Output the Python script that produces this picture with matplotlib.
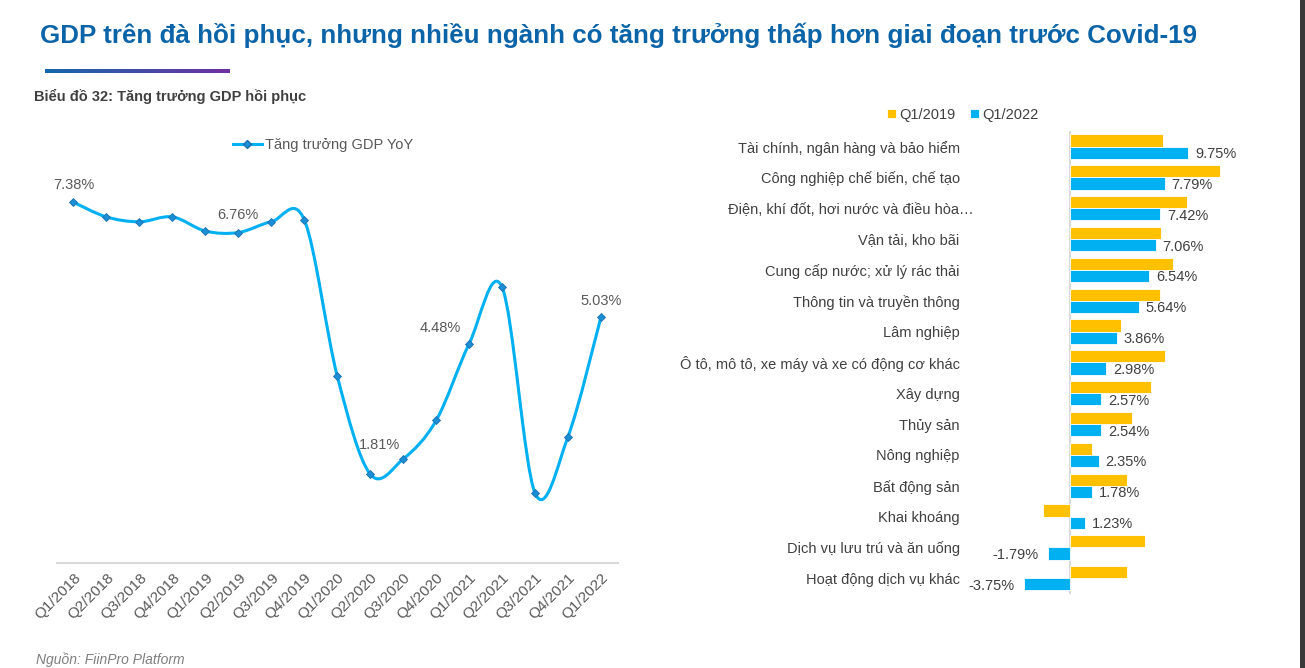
import numpy as np
import matplotlib
matplotlib.use("Agg")
import matplotlib.pyplot as plt
import matplotlib.patches as mpatches
from matplotlib.path import Path
from matplotlib.colors import LinearSegmentedColormap
from matplotlib.transforms import ScaledTranslation

plt.rcParams["font.family"] = ["Liberation Sans", "DejaVu Sans"]

# ---- data ----
quarters = ["Q1/2018", "Q2/2018", "Q3/2018", "Q4/2018",
            "Q1/2019", "Q2/2019", "Q3/2019", "Q4/2019",
            "Q1/2020", "Q2/2020", "Q3/2020", "Q4/2020",
            "Q1/2021", "Q2/2021", "Q3/2021", "Q4/2021", "Q1/2022"]
gdp_yoy = [7.38, 7.08, 6.98, 7.08, 6.79, 6.76, 6.98, 7.02,
           3.82, 1.81, 2.12, 2.91, 4.48, 5.64, 1.42, 2.58, 5.03]
# index -> (label, offset in px from the point)
labelled = {0: ("7.38%", 0, 17), 5: ("6.76%", 0, 18), 9: ("1.81%", 9, 29),
            12: ("4.48%", -29, 16), 16: ("5.03%", 0, 16)}

sectors = ["Tài chính, ngân hàng và bảo hiểm",
           "Công nghiệp chế biến, chế tạo",
           "Điện, khí đốt, hơi nước và điều hòa…",
           "Vận tải, kho bãi",
           "Cung cấp nước; xử lý rác thải",
           "Thông tin và truyền thông",
           "Lâm nghiệp",
           "Ô tô, mô tô, xe máy và xe có động cơ khác",
           "Xây dựng",
           "Thủy sản",
           "Nông nghiệp",
           "Bất động sản",
           "Khai khoáng",
           "Dịch vụ lưu trú và ăn uống",
           "Hoạt động dịch vụ khác"]
q1_2019 = [7.68, 12.32, 9.60, 7.50, 8.46, 7.44, 4.19, 7.81,
           6.66, 5.07, 1.79, 4.73, -2.21, 6.19, 4.73]
q1_2022 = [9.75, 7.79, 7.42, 7.06, 6.54, 5.64, 3.86, 2.98,
           2.57, 2.54, 2.35, 1.78, 1.23, -1.79, -3.75]

LINE = "#00B0F0"
ORANGE = "#FFC000"
BLUE = "#00B0F0"
TXT = "#595959"
W, H = 1305, 668


def fx(px):
    return px / W


def fy(py):
    return 1 - py / H


def smooth_path(xs, ys):
    """Bezier path like Excel's smoothed line (Catmull-Rom control points)."""
    pts = np.column_stack([xs, ys]).astype(float)
    n = len(pts)
    verts = [pts[0]]
    codes = [Path.MOVETO]
    for i in range(n - 1):
        p0 = pts[i - 1] if i > 0 else pts[i]
        p1, p2 = pts[i], pts[i + 1]
        p3 = pts[i + 2] if i + 2 < n else pts[i + 1]
        verts += [p1 + (p2 - p0) / 6, p2 - (p3 - p1) / 6, p2]
        codes += [Path.CURVE4] * 3
    return Path(verts, codes)


fig = plt.figure(figsize=(W / 100, H / 100), dpi=100)
fig.patch.set_facecolor("white")

# header
fig.text(fx(40), fy(43), "GDP trên đà hồi phục, nhưng nhiều ngành có tăng trưởng thấp hơn giai đoạn trước Covid-19",
         fontsize=18.7, fontweight="bold", color="#0B64A8", va="baseline")
gax = fig.add_axes([fx(45), fy(73), fx(185), 4 / H])
grad = LinearSegmentedColormap.from_list("g", ["#1468AC", "#7030A0"])
gax.imshow(np.linspace(0, 1, 256)[None, :], aspect="auto", cmap=grad)
gax.axis("off")
fig.text(fx(34), fy(101), "Biểu đồ 32: Tăng trưởng GDP hồi phục",
         fontsize=10.5, fontweight="bold", color="#404040", va="baseline")
fig.text(fx(36), fy(664), "Nguồn: FiinPro Platform", fontsize=10,
         style="italic", color="#7F7F7F", va="baseline")
fig.patches.append(mpatches.Rectangle((fx(1300), 0), fx(5), 1, transform=fig.transFigure,
                                      facecolor="#3A3A3A", edgecolor="none"))

# ---- left: GDP line ----
ax = fig.add_axes([fx(57), fy(562.5), fx(560.5), (562.5 - 172) / H])
x = np.arange(len(quarters))
ax.add_patch(mpatches.PathPatch(smooth_path(x, gdp_yoy), facecolor="none",
                                edgecolor=LINE, linewidth=2.2, capstyle="round"))
ax.plot(x, gdp_yoy, linestyle="none", marker="D", markersize=4.5,
        markerfacecolor="#1B8FD6", markeredgecolor="#1D6FB0", markeredgewidth=0.6)
lh, = ax.plot([], [], color=LINE, linewidth=2.2, marker="D", markersize=4.5,
              markerfacecolor="#1B8FD6", markeredgecolor="#1D6FB0",
              label="Tăng trưởng GDP YoY")
ax.set_xlim(-0.5, len(quarters) - 0.5)
ax.set_ylim(0, 8)
for i, (s, dx, dy) in labelled.items():
    ax.annotate(s, (x[i], gdp_yoy[i]), xytext=(dx * 0.72, dy * 0.72),
                textcoords="offset points", ha="center", va="center",
                fontsize=10.5, color=TXT)
ax.set_xticks(x)
ax.set_xticklabels(quarters, rotation=45, ha="right", rotation_mode="anchor",
                   fontsize=11, color=TXT)
ax.tick_params(axis="x", length=0, pad=6)
ax.set_yticks([])
for side in ("top", "right", "left"):
    ax.spines[side].set_visible(False)
ax.spines["bottom"].set_color("#D9D9D9")
ax.spines["bottom"].set_linewidth(1.5)
fig.legend(handles=[lh], loc="center", bbox_to_anchor=(fx(323), fy(145)),
           frameon=False, fontsize=10.5, handlelength=2.0, handletextpad=0.2,
           labelcolor=TXT)

# ---- right: sector bars ----
L, R = 968, 1290
scale = 12.15
bx = fig.add_axes([fx(L), fy(593.7), fx(R - L), (593.7 - 131.1) / H])
bx.set_xlim((L - 1070) / scale, (R - 1070) / scale)
y = np.arange(len(sectors))
bh = 0.395
bx.barh(y - bh / 2, q1_2019, height=bh, color=ORANGE, edgecolor="white",
        linewidth=0.6, label="Q1/2019")
bars = bx.barh(y + bh / 2, q1_2022, height=bh, color=BLUE, edgecolor="white",
               linewidth=0.6, label="Q1/2022")
for b, v in zip(bars, q1_2022):
    off = 5 if v >= 0 else -7
    bx.annotate(f"{v:.2f}%", (v, b.get_y() + b.get_height() / 2),
                xytext=(off, -1), textcoords="offset points",
                ha="left" if v >= 0 else "right", va="center",
                fontsize=10.5, color="#404040")
bx.set_ylim(len(sectors) - 0.5, -0.5)
bx.set_yticks(y)
bx.set_yticklabels(sectors, fontsize=10.5, color="#404040")
bx.tick_params(axis="y", length=0, pad=6)
lbl = bx.get_yticklabels()[2]
lbl.set_transform(lbl.get_transform() + ScaledTranslation(0.136, 0, fig.dpi_scale_trans))
bx.set_xticks([])
for side in bx.spines:
    bx.spines[side].set_visible(False)
bx.axvline(0, color="#D9D9D9", linewidth=1.5, zorder=0)
fig.legend(handles=bx.get_legend_handles_labels()[0], loc="center",
           bbox_to_anchor=(fx(963), fy(115)), ncol=2, frameon=False, fontsize=10.5,
           handlelength=0.6, handleheight=0.6, handletextpad=0.25,
           columnspacing=1.0, labelcolor="#404040")

fig.savefig("out.png", dpi=100)
